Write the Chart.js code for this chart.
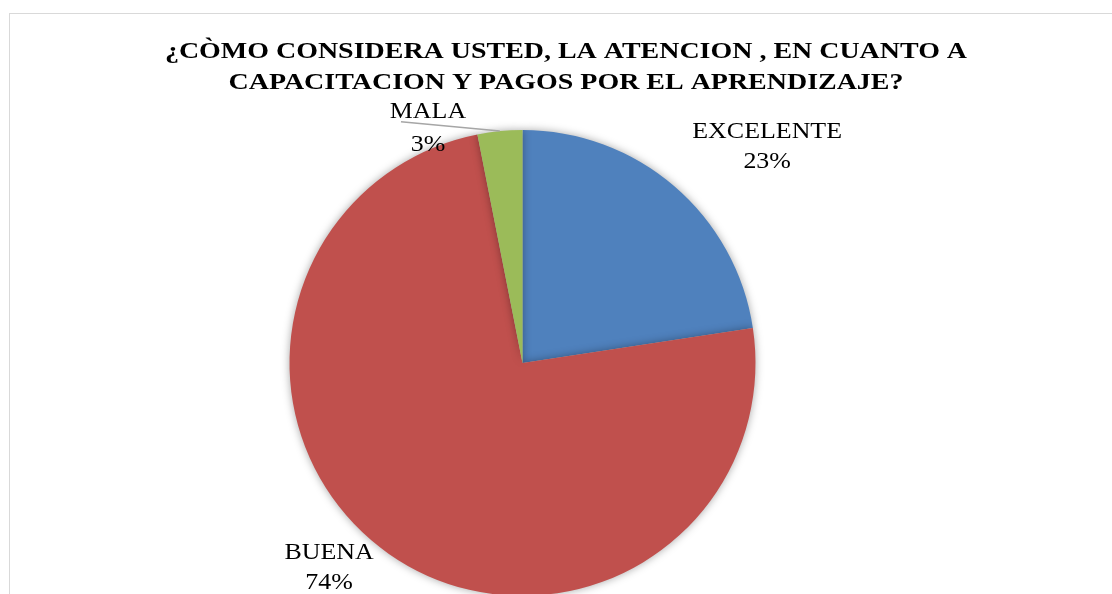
<!DOCTYPE html>
<html>
<head>
<meta charset="utf-8">
<script src="https://cdn.jsdelivr.net/npm/chart.js@4"></script>
<style>
html,body{margin:0;padding:0;background:#fff;overflow:hidden;}
#wrap{position:relative;width:1112px;height:640px;}
</style>
</head>
<body>
<div id="wrap"><canvas id="c" width="1112" height="640"></canvas></div>
<script>
const titleLines = ["¿CÒMO CONSIDERA USTED, LA ATENCION , EN CUANTO A", "CAPACITACION Y PAGOS POR EL APRENDIZAJE?"];
const categories = ["EXCELENTE", "BUENA", "MALA"];
const values = [22.6, 74.3, 3.1];
const colors = ["#4F81BD", "#C0504D", "#9BBB59"];

// label placement relative to pie centre, in units of radius (styling only)
const labelOffsets = [[1.05, -0.93], [-0.83, 0.88], [-0.41, -1.01]];

function stretchText(ctx, text, x, y, sx) {
  ctx.save();
  ctx.translate(x, y);
  ctx.scale(sx, 1);
  ctx.fillText(text, 0, 0);
  ctx.restore();
}

const frame = {
  id: 'frame',
  beforeDraw(chart) {
    const ctx = chart.ctx;
    ctx.save();
    ctx.strokeStyle = '#d9d9d9';
    ctx.lineWidth = 1;
    ctx.strokeRect(9.5, 13.5, 1200, 700);
    ctx.fillStyle = '#000';
    ctx.font = 'bold 24px "Liberation Serif", "Times New Roman", serif';
    ctx.textAlign = 'center';
    ctx.textBaseline = 'middle';
    stretchText(ctx, titleLines[0], 566, 52, 1.165);
    stretchText(ctx, titleLines[1], 566, 83, 1.165);
    ctx.restore();
  },
  beforeDatasetsDraw(chart) {
    const ctx = chart.ctx;
    ctx.save();
    ctx.shadowColor = 'rgba(0,0,0,0.35)';
    ctx.shadowBlur = 9;
    ctx.shadowOffsetX = 0;
    ctx.shadowOffsetY = 0;
  },
  afterDatasetsDraw(chart) {
    const ctx = chart.ctx;
    ctx.restore();
    const meta = chart.getDatasetMeta(0);
    const total = values.reduce((a, b) => a + b, 0);
    ctx.save();
    ctx.font = '24px "Liberation Serif", "Times New Roman", serif';
    ctx.fillStyle = '#000';
    ctx.textAlign = 'center';
    ctx.textBaseline = 'middle';
    const sx = 1.08;
    meta.data.forEach((arc, i) => {
      const r = arc.outerRadius;
      const lx = arc.x + labelOffsets[i][0] * r;
      const ly = arc.y + labelOffsets[i][1] * r;
      const pct = Math.round(values[i] / total * 100) + '%';
      if (i === 2) {
        const mid = (arc.startAngle + arc.endAngle) / 2;
        ctx.strokeStyle = '#a6a6a6';
        ctx.lineWidth = 1.5;
        ctx.beginPath();
        ctx.moveTo(400, ly - 6 < 0 ? 0 : lx - 26);
        ctx.stroke();
        ctx.beginPath();
        ctx.moveTo(lx - 26, ly - 6);
        ctx.lineTo(arc.x + Math.cos(mid) * r, arc.y + Math.sin(mid) * r);
        ctx.stroke();
        stretchText(ctx, categories[i], lx + 1, ly - 16, sx);
        stretchText(ctx, pct, lx + 1, ly + 17, sx);
      } else {
        stretchText(ctx, categories[i], lx, ly - 15, sx);
        stretchText(ctx, pct, lx, ly + 15, sx);
      }
    });
    ctx.restore();
  }
};

new Chart(document.getElementById('c'), {
  type: 'pie',
  data: {
    labels: categories,
    datasets: [{
      data: values,
      backgroundColor: colors,
      borderWidth: 0
    }]
  },
  options: {
    responsive: false,
    animation: false,
    layout: { padding: { left: 0, right: 67, top: 130, bottom: 44 } },
    plugins: {
      legend: { display: false },
      tooltip: { enabled: false },
      title: { display: false }
    }
  },
  plugins: [frame]
});
</script>
</body>
</html>
